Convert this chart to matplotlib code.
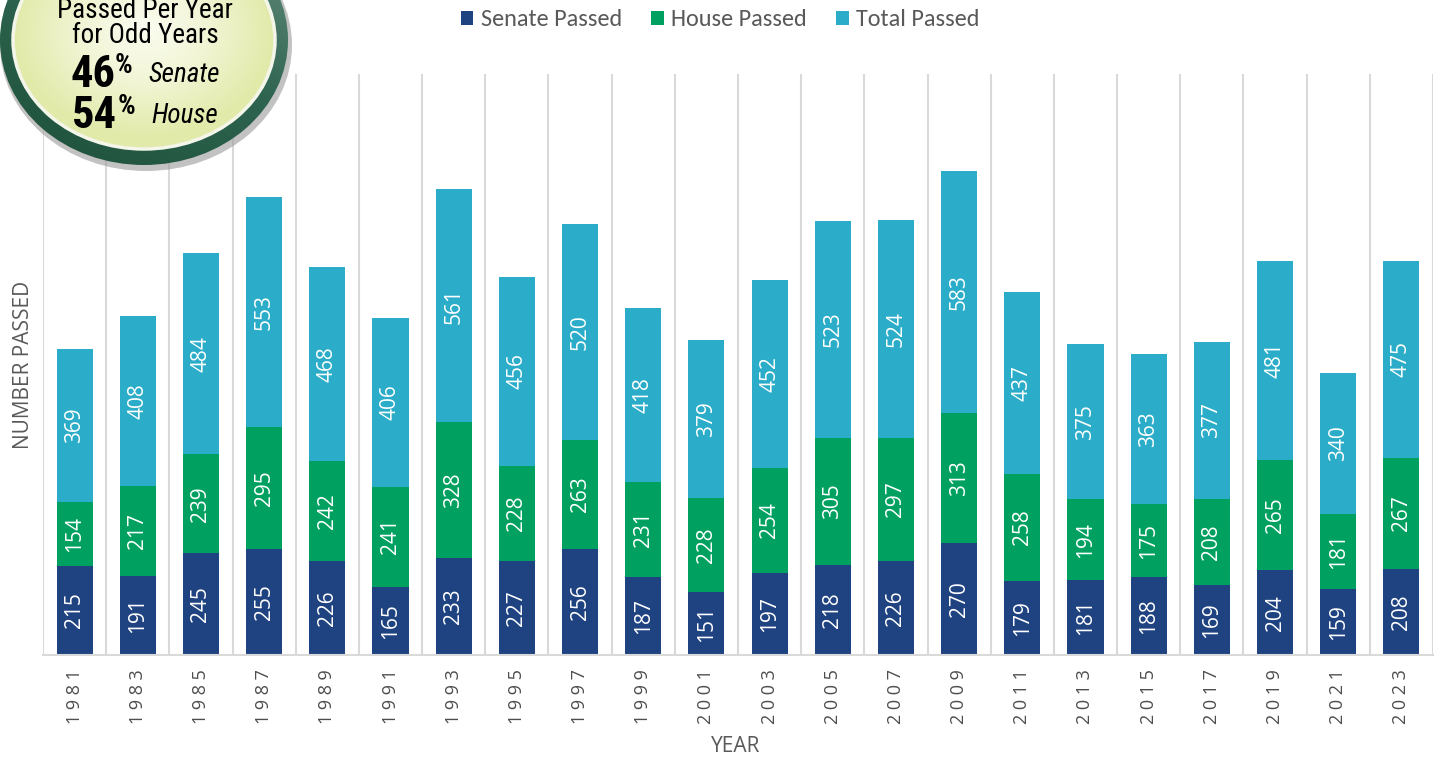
import numpy as np
import matplotlib
matplotlib.use('Agg')
import matplotlib.pyplot as plt
from matplotlib.patches import Ellipse
from matplotlib.colors import LinearSegmentedColormap
from matplotlib import font_manager

years = [1981, 1983, 1985, 1987, 1989, 1991, 1993, 1995, 1997, 1999, 2001,
         2003, 2005, 2007, 2009, 2011, 2013, 2015, 2017, 2019, 2021, 2023]
senate = [215, 191, 245, 255, 226, 165, 233, 227, 256, 187, 151,
          197, 218, 226, 270, 179, 181, 188, 169, 204, 159, 208]
house = [154, 217, 239, 295, 242, 241, 328, 228, 263, 231, 228,
         254, 305, 297, 313, 258, 194, 175, 208, 265, 181, 267]
total = [369, 408, 484, 553, 468, 406, 561, 456, 520, 418, 379,
         452, 523, 524, 583, 437, 375, 363, 377, 481, 340, 475]
series_names = ['Senate Passed', 'House Passed', 'Total Passed']
colors = ['#1f4381', '#00a160', '#2badc9']

names = {f.name for f in font_manager.fontManager.ttflist}


def pick(cands, default='DejaVu Sans'):
    for c in cands:
        if c in names:
            return c
    return default


narrow = pick(['Roboto Condensed', 'Archivo Narrow', 'PT Sans Narrow', 'Arial Narrow',
               'Liberation Sans Narrow', 'Pragati Narrow', 'Liberation Sans'])
legfont = pick(['Carlito', 'Calibri', 'Lato', 'Open Sans'])
legsize = 18 if legfont in ('Carlito', 'Calibri') else 16
GRAY = '#595959'

W, H = 1440, 757
fig = plt.figure(figsize=(W / 100, H / 100), dpi=100)
ax = fig.add_axes([43 / W, 102 / H, 1390 / W, 581 / H])
x = np.arange(len(years))
bw = 0.57
c1 = ax.bar(x, senate, bw, color=colors[0], label=series_names[0], zorder=2)
c2 = ax.bar(x, house, bw, bottom=senate, color=colors[1], label=series_names[1], zorder=2)
bottom2 = np.array(senate) + np.array(house)
c3 = ax.bar(x, total, bw, bottom=bottom2, color=colors[2], label=series_names[2], zorder=2)
for c in (c1, c2, c3):
    ax.bar_label(c, label_type='center', rotation=90, color='white',
                 fontsize=15, family='Open Sans')

ax.set_ylim(0, 1400)
ax.set_xlim(-0.5, len(years) - 0.5)
ax.set_yticks([])
ax.set_xticks(x)
ax.set_xticklabels([' '.join(str(y)) for y in years], rotation=90,
                   fontsize=13, color='#4d4d4d', family='Open Sans')
ax.tick_params(axis='x', length=0, pad=10)
for s in ('top', 'right', 'left'):
    ax.spines[s].set_visible(False)
ax.spines['bottom'].set_color('#d9d9d9')
ax.spines['bottom'].set_linewidth(1.5)
for b in np.arange(-0.5, len(years), 1):
    ax.axvline(b, color='#d9d9d9', lw=1.5, zorder=0)

fig.text(24 / W, 1 - 365 / H, 'NUMBER PASSED', rotation=90, ha='center', va='center',
         fontsize=15, color=GRAY, family='Open Sans')
fig.text(736 / W, 1 - 747 / H, 'YEAR', ha='center', va='center',
         fontsize=15, color=GRAY, family='Open Sans')

leg = fig.legend(handles=[c1, c2, c3], loc='center',
                 bbox_to_anchor=(720 / W, 1 - 20 / H),
                 ncol=3, frameon=False, handlelength=0.52, handleheight=0.52,
                 handletextpad=0.3, columnspacing=1.2, borderpad=0,
                 prop={'family': legfont, 'size': legsize - 0.5})
for t in leg.get_texts():
    t.set_color(GRAY)

# Badge overlay
ov = fig.add_axes([0, 0, 1, 1], zorder=10)
ov.set_xlim(0, W)
ov.set_ylim(H, 0)
ov.axis('off')
cx, cy = 144, 40
shadow = Ellipse((cx + 2, cy + 5), 292, 252, color='#9a9a9a', alpha=0.6, lw=0)
ov.add_patch(shadow)
outer = Ellipse((cx, cy), 288, 250, color='none', lw=0)
ov.add_patch(outer)
gx = np.linspace(0, 1, 200)
gy = np.linspace(0, 1, 200)
GX, GY = np.meshgrid(gx, gy)
ring_val = np.clip(0.65 * GY + 0.35 * (1 - GX), 0, 1)
ring_cmap = LinearSegmentedColormap.from_list('r', ['#6f9484', '#2e6450', '#1d5039'])
ov.imshow(ring_val, extent=(cx - 144, cx + 144, cy + 125, cy - 125), cmap=ring_cmap,
          clip_path=outer, aspect='auto', zorder=1)
rim = Ellipse((cx, cy), 262, 218, facecolor='none', edgecolor='#f4f6ea', lw=2.5, zorder=3)
inner = Ellipse((cx, cy), 260, 216, color='none', lw=0)
ov.add_patch(inner)
R = np.sqrt((GX - 0.5) ** 2 / 0.25 + (GY - 0.45) ** 2 / 0.25)
cream_cmap = LinearSegmentedColormap.from_list('c', ['#fbfcf0', '#f1f5d4', '#e2eaaa'])
ov.imshow(np.clip(R, 0, 1), extent=(cx - 130, cx + 130, cy + 108, cy - 108), cmap=cream_cmap,
          clip_path=inner, aspect='auto', zorder=2)
ov.add_patch(rim)

ov.text(145, 18, 'Passed Per Year', ha='center', va='baseline', fontsize=19.5,
        family=narrow, color='black', zorder=5)
ov.text(145, 43, 'for Odd Years', ha='center', va='baseline', fontsize=19.5,
        family=narrow, color='black', zorder=5)
ov.text(70, 87, '46', ha='left', va='baseline', fontsize=32, fontweight='bold',
        family=narrow, color='black', zorder=5)
ov.text(115, 73, '%', ha='left', va='baseline', fontsize=20, fontweight='bold',
        family=narrow, color='black', zorder=5)
ov.text(148, 82, 'Senate', ha='left', va='baseline', fontsize=19.5, style='italic',
        family=narrow, color='black', zorder=5)
ov.text(72, 128, '54', ha='left', va='baseline', fontsize=32, fontweight='bold',
        family=narrow, color='black', zorder=5)
ov.text(118, 114, '%', ha='left', va='baseline', fontsize=20, fontweight='bold',
        family=narrow, color='black', zorder=5)
ov.text(151, 123, 'House', ha='left', va='baseline', fontsize=19.5, style='italic',
        family=narrow, color='black', zorder=5)

fig.savefig('out.png', dpi=100)
